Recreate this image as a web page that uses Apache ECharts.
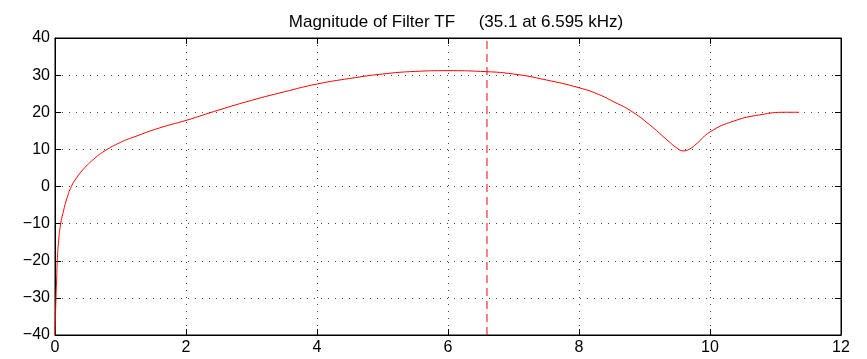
<!DOCTYPE html>
<html><head><meta charset="utf-8">
<script src="https://cdn.jsdelivr.net/npm/echarts@6/dist/echarts.min.js"></script>
<style>html,body{margin:0;padding:0;background:#fff}#c{width:867px;height:359px}</style>
</head><body><div id="c"></div>
<script>
const titleText = 'Magnitude of Filter TF     (35.1 at 6.595 kHz)';
const freqKHz = [0, 0.003, 0.015, 0.025, 0.035, 0.056, 0.087, 0.12, 0.18, 0.25, 0.32, 0.43, 0.6, 0.76, 1.0, 1.2, 1.6, 2.0, 2.5, 3.0, 3.5, 4.0, 4.5, 5.0, 5.5, 6.0, 6.5, 7.0, 7.5, 8.0, 8.3, 8.52, 8.78, 9.08, 9.34, 9.5, 9.59, 9.68, 9.8, 10.0, 10.36, 10.76, 11.17, 11.36];
const magDb = [-40, -38, -30, -25.2, -20, -14.5, -10, -7.3, -3.3, 0, 2.1, 4.6, 7.5, 9.6, 11.9, 13.3, 15.8, 17.8, 20.6, 23.2, 25.5, 27.6, 29.1, 30.3, 31.0, 31.2, 31.0, 30.3, 28.7, 26.6, 24.8, 22.9, 20.5, 16.6, 12.6, 10.3, 9.6, 10.0, 11.6, 14.7, 17.6, 19.3, 20, 20];
const markerFreq = 6.595;
const xTicks = [0, 2, 4, 6, 8, 10, 12];
const yTicks = [-40, -30, -20, -10, 0, 10, 20, 30, 40];

const chart = echarts.init(document.getElementById('c'));
const font = 'Liberation Sans, Arial, Helvetica, sans-serif';
const fmt = v => String(v).replace('-', '\u2212');
const axCommon = {
  axisLine: {show: true, onZero: false, lineStyle: {color: '#000', width: 1}},
  axisTick: {show: true, inside: true, length: 6, lineStyle: {color: '#000'}},
};
const grid = {show: true, lineStyle: {color: '#444', type: [1, 6], width: 1}};
chart.setOption({
  animation: false,
  title: {text: titleText, left: 451, textAlign: 'center', top: 9,
    textStyle: {fontFamily: font, fontSize: 17, fontWeight: 'normal', color: '#000'}},
  grid: {left: 55, right: 26, top: 38, bottom: 24, show: true, borderColor: '#000', borderWidth: 1},
  xAxis: [
    Object.assign({type: 'value', min: xTicks[0], max: xTicks[xTicks.length-1], interval: 2,
      axisLabel: {fontFamily: font, fontSize: 16, color: '#000', margin: 5, formatter: fmt},
      splitLine: grid}, axCommon),
    Object.assign({type: 'value', position: 'top', min: 0, max: 12, interval: 2,
      axisLabel: {show: false}, splitLine: {show: false}}, axCommon)
  ],
  yAxis: [
    Object.assign({type: 'value', min: yTicks[0], max: yTicks[yTicks.length-1], interval: 10,
      axisLabel: {fontFamily: font, fontSize: 16, color: '#000', margin: 5, formatter: fmt},
      splitLine: grid}, axCommon),
    Object.assign({type: 'value', position: 'right', min: -40, max: 40, interval: 10,
      axisLabel: {show: false}, splitLine: {show: false}}, axCommon)
  ],
  series: [
    {type: 'line', data: freqKHz.map((f, i) => [f, magDb[i]]), showSymbol: false,
      smooth: 0.5,
      lineStyle: {color: '#ff0000', width: 1}, z: 3},
    {type: 'line', data: [[markerFreq, -40], [markerFreq, 40]], showSymbol: false,
      lineStyle: {color: '#ff0000', width: 1, type: [8, 5]}, z: 3}
  ]
});
</script></body></html>
